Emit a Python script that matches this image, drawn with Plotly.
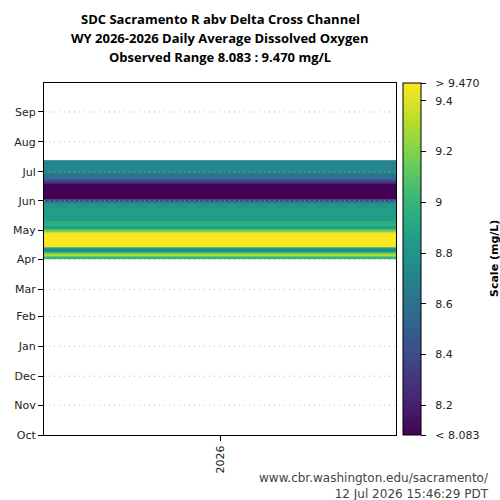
import pandas as pd
import plotly.graph_objects as go

# ---- data ----
water_year = "2026"
wy_start = "2025-10-01"
wy_end = "2026-10-01"
first_date = "2026-04-01"
do_values = [
    # Apr 1 - Apr 30
    9.00, 9.00, 9.15, 9.30, 9.30, 9.10, 9.05, 8.80, 8.72, 8.70,
    8.75, 8.85, 9.10, 9.46, 9.48, 9.50, 9.47, 9.49, 9.50, 9.48,
    9.47, 9.49, 9.50, 9.48, 9.46, 9.47, 9.45, 9.35, 9.20, 9.15,
    # May 1 - May 31
    9.05, 8.90, 8.85, 8.88, 8.90, 8.95, 8.97, 8.95, 8.93, 8.95,
    8.85, 8.83, 8.87, 8.85, 8.82, 8.86, 8.84, 8.88, 8.85, 8.83,
    8.86, 8.84, 8.85, 8.82, 8.80, 8.82, 8.80, 8.75, 8.70, 8.55,
    8.45,
    # Jun 1 - Jun 30
    8.35, 8.40, 8.08, 8.05, 8.04, 8.06, 8.05, 8.03, 8.05, 8.06,
    8.04, 8.05, 8.07, 8.05, 8.06, 8.08, 8.10, 8.20, 8.30, 8.35,
    8.40, 8.50, 8.55, 8.60, 8.60, 8.65, 8.60, 8.65, 8.70, 8.70,
    # Jul 1 - Jul 12
    8.70, 8.72, 8.70, 8.75, 8.70, 8.72, 8.75, 8.70, 8.72, 8.70,
    8.72, 8.70,
]
obs_min = 8.083
obs_max = 9.470
month_labels = ["Oct", "Nov", "Dec", "Jan", "Feb", "Mar",
                "Apr", "May", "Jun", "Jul", "Aug", "Sep"]
cbar_ticks = [8.2, 8.4, 8.6, 8.8, 9.0, 9.2, 9.4]
cbar_text = ["8.2", "8.4", "8.6", "8.8", "9", "9.2", "9.4"]
title_lines = ["SDC Sacramento R abv Delta Cross Channel",
               "WY 2026-2026 Daily Average Dissolved Oxygen",
               "Observed Range 8.083 : 9.470 mg/L"]
footer_lines = ["www.cbr.washington.edu/sacramento/",
                "12 Jul 2026 15:46:29 PDT"]

# ---- derived ----
ws = pd.Timestamp(wy_start)
dates = pd.date_range(first_date, periods=len(do_values), freq="D")
day_idx = [(d - ws).days + 0.5 for d in dates]
month_starts = pd.date_range(wy_start, periods=12, freq="MS")
month_pos = [(d - ws).days for d in month_starts]
wy_len = (pd.Timestamp(wy_end) - ws).days

z = [[v] for v in do_values]
pad = "\u00a0\u00a0"

# plot area in pixels
PL, PR, PT, PB = 44, 396, 83, 435
def px(x):
    return (x - PL) / (PR - PL)
def py(y):
    return (PB - y) / (PB - PT)

fig = go.Figure()
fig.add_trace(go.Heatmap(
    z=z, x=[0], y=day_idx,
    colorscale="Viridis", zmin=obs_min, zmax=obs_max,
    showscale=True,
    colorbar=dict(
        thickness=18, len=1.0, lenmode="fraction", y=0.5, yanchor="middle",
        x=1.02, xanchor="left", xpad=0, ypad=0,
        outlinecolor="black", outlinewidth=1,
        tickvals=[obs_min] + cbar_ticks + [obs_max],
        ticktext=[pad + "< %.3f" % obs_min] + [pad + t for t in cbar_text] + [pad + "> %.3f" % obs_max],
        ticks="outside", ticklen=5, tickcolor="black",
        tickfont=dict(family="DejaVu Sans", size=11, color="#222"),
    ),
    hovertemplate="%{z:.3f}<extra></extra>",
))

for p in month_pos[1:]:
    fig.add_shape(type="line", xref="paper", yref="y", x0=0, x1=1, y0=p, y1=p,
                  line=dict(color="rgba(170,170,170,0.8)", width=1, dash="1px,4px"),
                  layer="above")

annotations = []
for line, yy in zip(title_lines, [19, 38.5, 57]):
    annotations.append(dict(text="<b>%s</b>" % line, xref="paper", yref="paper",
                            x=px(220), y=py(yy), xanchor="center", yanchor="middle",
                            showarrow=False,
                            font=dict(family="Open Sans", size=13, color="black")))
annotations.append(dict(text="<br>".join(footer_lines), xref="paper", yref="paper",
                        x=px(491), y=py(486), xanchor="right", yanchor="middle",
                        align="right", showarrow=False,
                        font=dict(family="DejaVu Sans", size=12, color="#444")))
annotations.append(dict(text="<b>Scale (mg/L)</b>", xref="paper", yref="paper",
                        x=px(494), y=0.5, xanchor="center", yanchor="middle",
                        textangle=-90, showarrow=False,
                        font=dict(family="DejaVu Sans", size=11, color="black")))

fig.update_layout(
    width=500, height=500,
    margin=dict(l=PL, r=500 - PR, t=PT, b=500 - PB),
    paper_bgcolor="white", plot_bgcolor="white",
    xaxis=dict(
        range=[-0.5, 0.5], tickvals=[0], ticktext=[water_year], tickangle=-90,
        showline=True, linecolor="black", linewidth=1, mirror=True,
        ticks="outside", ticklen=5, tickcolor="black", showgrid=False, zeroline=False,
        tickfont=dict(family="DejaVu Sans", size=11, color="#222"),
    ),
    yaxis=dict(
        range=[0, wy_len], tickvals=month_pos, ticktext=month_labels,
        showline=True, linecolor="black", linewidth=1, mirror=True,
        ticks="outside", ticklen=5, tickcolor="black", showgrid=False, zeroline=False,
        tickfont=dict(family="DejaVu Sans", size=11, color="#222"),
    ),
    annotations=annotations,
)

fig.write_html("out.html")
